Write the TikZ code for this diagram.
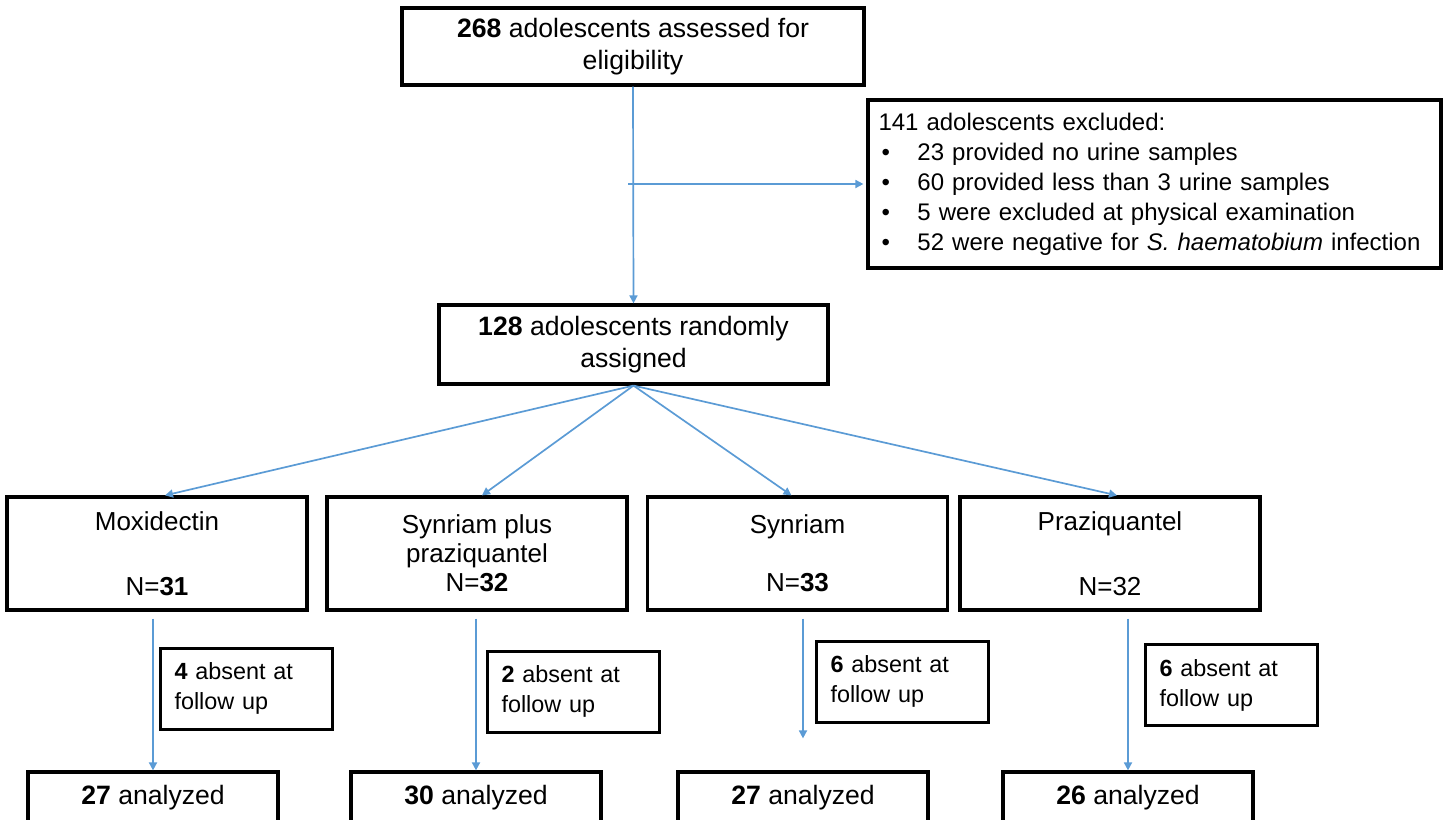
\documentclass[tikz,border=0pt]{standalone}
\usepackage{fontspec}
\setmainfont{Liberation Sans}
\usetikzlibrary{arrows.meta}
\definecolor{flowblue}{RGB}{91,155,213}
\newcommand{\bul}{\hspace*{1.5pt}\makebox[18pt][l]{\textbullet}}

\begin{document}
\begin{tikzpicture}[x=0.5pt,y=-0.5pt,
  box/.style={draw,line width=1.6pt,align=center,inner sep=0pt,font=\fontsize{13.3}{16}\selectfont},
  armbox/.style={box,minimum width=150pt,minimum height=56.5pt,font=\fontsize{13}{14.5}\selectfont},
  absbox/.style={draw,line width=1.5pt,minimum width=86pt,minimum height=40.5pt,align=left,text width=72pt,inner xsep=7pt,inner ysep=0pt,font=\fontsize{11.7}{15}\selectfont},
  resbox/.style={box,minimum width=125pt,minimum height=26pt},
  flow/.style={draw=flowblue,line width=0.85pt,-{Triangle[length=4pt,width=4pt]}}]
\useasboundingbox (0,0) rectangle (1448,820);
% enrolment
\node[box,minimum width=231pt,minimum height=38.5pt] (elig) at (633,46.5) {\textbf{268} adolescents assessed for\\eligibility};
\node[box,minimum width=286.5pt,minimum height=84pt,align=left,text width=276pt,inner xsep=5pt,font=\fontsize{12}{15}\selectfont] (excl) at (1154.5,184)
  {141 adolescents excluded:\\
   \bul 23 provided no urine samples\\
   \bul 60 provided less than 3 urine samples\\
   \bul 5 were excluded at physical examination\\
   \bul 52 were negative for \textit{S. haematobium} infection};
\node[box,minimum width=194.5pt,minimum height=39.5pt] (rand) at (633.5,344.5) {\textbf{128} adolescents randomly\\assigned};
% arms
\node[armbox] (moxi) at (157,553.5) {Moxidectin\\[18pt]N=\textbf{31}};
\node[armbox] (synpz) at (477,553.5) {Synriam plus\\praziquantel\\N=\textbf{32}};
\node[armbox] (synr) at (797.5,553.5) {Synriam\\[14.5pt]N=\textbf{33}};
\node[armbox] (praz) at (1110,553.5) {Praziquantel\\[18pt]N=32};
% losses
\node[absbox] (moxiabs) at (246.5,688.5) {\textbf{4} absent at\\follow up};
\node[absbox] (synpzabs) at (573.5,691.5) {\textbf{2} absent at\\follow up};
\node[absbox] (synrabs) at (902.5,681.5) {\textbf{6} absent at\\follow up};
\node[absbox] (prazabs) at (1231.5,685) {\textbf{6} absent at\\follow up};
% analysed
\node[resbox] (moxires) at (153,798) {\textbf{27} analyzed};
\node[resbox] (synpzres) at (476,798) {\textbf{30} analyzed};
\node[resbox] (synrres) at (803,798) {\textbf{27} analyzed};
\node[resbox] (prazres) at (1128,798) {\textbf{26} analyzed};
% connectors
\draw[flow] (elig.south) -- (rand.north);
\draw[flow,shorten >=1.5pt] ([xshift=-2.5pt]elig.south |- excl.west) -- (excl.west);
\foreach \arm/\dx in {moxi/4pt,synpz/2.5pt,synr/-3pt,praz/3.5pt}
  \draw[flow] (rand.south) -- ([xshift=\dx]\arm.north);
\foreach \arm/\res/\gap in {moxi/moxires/0pt,synpz/synpzres/0pt,synr/synrres/16pt,praz/prazres/0pt}
  \draw[flow] ([yshift=-3.5pt]\arm.south -| \res.north) -- ([yshift=\gap]\res.north);
\end{tikzpicture}
\end{document}
